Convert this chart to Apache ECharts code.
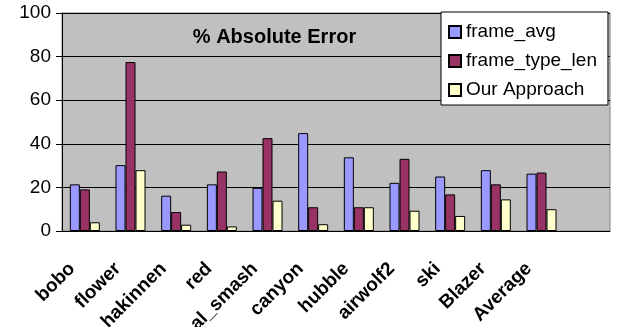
<!DOCTYPE html>
<html>
<head>
<meta charset="utf-8">
<script src="https://cdn.jsdelivr.net/npm/echarts@6/dist/echarts.min.js"></script>
<style>
  html, body { margin: 0; padding: 0; background: #ffffff; }
  #chart { width: 620px; height: 327px; }
</style>
</head>
<body>
<div id="chart"></div>
<script>
// Sequences (the trailing empty slot keeps the spare column at the right)
const categories = ['bobo', 'flower', 'hakinnen', 'red', 'al_smash', 'canyon', 'hubble', 'airwolf2', 'ski', 'Blazer', 'Average', ''];

// % absolute error per method
const frameAvg     = [21.4, 30.2, 16.2, 21.4, 19.8, 44.9, 33.8, 22.1, 25.0, 27.9, 26.3, null];
const frameTypeLen = [19.1, 77.5,  8.7, 27.3, 42.6, 10.9, 10.9, 33.1, 16.8, 21.4, 26.8, null];
const ourApproach  = [ 4.0, 27.9,  2.9,  2.1, 13.9,  3.1, 10.9,  9.3,  6.9, 14.5, 10.0, null];

const yTicks = { min: 0, max: 100, interval: 20 };
const chartTitle = '% Absolute Error';
const seriesNames = ['frame_avg', 'frame_type_len', 'Our Approach'];
const seriesColors = ['#9999FF', '#993366', '#FFFFCC'];

const FONT = 'Liberation Sans, Arial, sans-serif';

const chart = echarts.init(document.getElementById('chart'), null, { renderer: 'canvas' });

const seriesData = [frameAvg, frameTypeLen, ourApproach];

chart.setOption({
  animation: false,
  backgroundColor: '#ffffff',
  grid: {
    left: 62, top: 13, width: 548, height: 218,
    containLabel: false,
    outerBoundsMode: 'none',
    show: true,
    backgroundColor: '#C0C0C0',
    borderColor: '#808080',
    borderWidth: 1
  },
  graphic: [{
    type: 'text',
    x: 274.5, y: 37,
    style: {
      text: chartTitle,
      fill: '#000',
      font: 'bold 20px ' + FONT,
      textAlign: 'center',
      textVerticalAlign: 'middle'
    },
    z: 10
  }],
  legend: {
    orient: 'vertical',
    left: 441, top: 12,
    backgroundColor: '#ffffff',
    borderColor: '#000000',
    borderWidth: 1,
    borderRadius: 0,
    padding: [10, 11, 5, 7],
    itemGap: 9,
    itemWidth: 12,
    itemHeight: 12,
    icon: 'rect',
    textStyle: { fontFamily: FONT, fontSize: 19, color: '#000', lineHeight: 20 },
    data: seriesNames
  },
  xAxis: {
    type: 'category',
    data: categories,
    axisLine: { show: true, lineStyle: { color: '#000', width: 1 } },
    axisTick: { show: false },
    axisLabel: {
      interval: 0,
      rotate: 45,
      margin: 22,
      padding: [0, 18, 0, 0],
      fontFamily: FONT,
      fontSize: 19,
      fontWeight: 'bold',
      color: '#000'
    },
    splitLine: { show: false }
  },
  yAxis: {
    type: 'value',
    min: yTicks.min, max: yTicks.max, interval: yTicks.interval,
    axisLine: { show: true, lineStyle: { color: '#000', width: 1 } },
    axisTick: { show: true, length: 6, lineStyle: { color: '#000' } },
    axisLabel: { margin: 11, fontFamily: FONT, fontSize: 19, color: '#000' },
    splitLine: { show: true, lineStyle: { color: '#000', width: 1 } }
  },
  series: seriesNames.map((name, i) => ({
    name: name,
    type: 'bar',
    data: seriesData[i],
    barWidth: 10,
    barGap: '0%',
    itemStyle: { color: seriesColors[i], borderColor: '#000', borderWidth: 1 }
  }))
});
</script>
</body>
</html>
